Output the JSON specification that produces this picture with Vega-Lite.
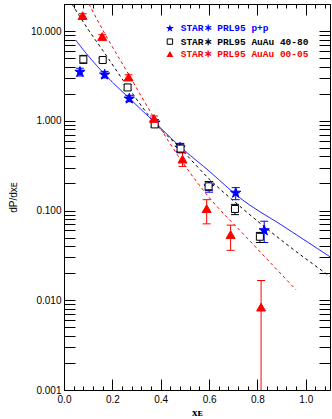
{
  "$schema": "https://vega.github.io/schema/vega-lite/v6.json",
  "width": 266,
  "height": 386,
  "autosize": {"type": "none"},
  "padding": {"left": 64, "top": 4, "right": 2, "bottom": 29},
  "background": "white",
  "config": {
    "view": {"stroke": "black", "strokeWidth": 1},
    "axis": {"domain": false, "grid": false, "tickColor": "black", "tickWidth": 1, "labelColor": "black", "labelFont": "Liberation Sans", "labelFontSize": 10, "titleColor": "black", "labelOverlap": false, "labelBound": false, "labelFlush": false},
    "text": {"font": "Liberation Mono", "fontSize": 9.5, "fontWeight": "bold", "align": "left", "baseline": "middle"}
  },
  "datasets": {
    "pts": [
      {"s": "STAR∗ PRL95 p+p", "x": 0.066, "y": 3.5, "lo": 3.15, "hi": 3.85},
      {"s": "STAR∗ PRL95 p+p", "x": 0.168, "y": 3.26, "lo": 3.0, "hi": 3.55},
      {"s": "STAR∗ PRL95 p+p", "x": 0.27, "y": 1.76, "lo": 1.63, "hi": 1.92},
      {"s": "STAR∗ PRL95 p+p", "x": 0.376, "y": 0.95, "lo": 0.87, "hi": 1.03},
      {"s": "STAR∗ PRL95 p+p", "x": 0.48, "y": 0.5, "lo": 0.45, "hi": 0.56},
      {"s": "STAR∗ PRL95 p+p", "x": 0.6, "y": 0.185, "lo": 0.16, "hi": 0.21},
      {"s": "STAR∗ PRL95 p+p", "x": 0.71, "y": 0.157, "lo": 0.132, "hi": 0.18},
      {"s": "STAR∗ PRL95 p+p", "x": 0.828, "y": 0.06, "lo": 0.044, "hi": 0.076},
      {"s": "STAR∗ PRL95 AuAu 40-80", "x": 0.08, "y": 4.83, "lo": 4.36, "hi": 5.35},
      {"s": "STAR∗ PRL95 AuAu 40-80", "x": 0.16, "y": 4.75, "lo": 4.5, "hi": 5.0},
      {"s": "STAR∗ PRL95 AuAu 40-80", "x": 0.263, "y": 2.35, "lo": 2.2, "hi": 2.54},
      {"s": "STAR∗ PRL95 AuAu 40-80", "x": 0.375, "y": 0.91, "lo": 0.85, "hi": 0.97},
      {"s": "STAR∗ PRL95 AuAu 40-80", "x": 0.482, "y": 0.49, "lo": 0.44, "hi": 0.55},
      {"s": "STAR∗ PRL95 AuAu 40-80", "x": 0.598, "y": 0.186, "lo": 0.168, "hi": 0.21},
      {"s": "STAR∗ PRL95 AuAu 40-80", "x": 0.707, "y": 0.104, "lo": 0.09, "hi": 0.117},
      {"s": "STAR∗ PRL95 AuAu 40-80", "x": 0.81, "y": 0.051, "lo": 0.044, "hi": 0.057},
      {"s": "STAR∗ PRL95 AuAu 00-05", "x": 0.077, "y": 14.7, "lo": 13.8, "hi": 15.6},
      {"s": "STAR∗ PRL95 AuAu 00-05", "x": 0.158, "y": 8.6, "lo": 8.1, "hi": 9.1},
      {"s": "STAR∗ PRL95 AuAu 00-05", "x": 0.267, "y": 3.04, "lo": 2.85, "hi": 3.25},
      {"s": "STAR∗ PRL95 AuAu 00-05", "x": 0.372, "y": 1.05, "lo": 0.95, "hi": 1.13},
      {"s": "STAR∗ PRL95 AuAu 00-05", "x": 0.49, "y": 0.37, "lo": 0.31, "hi": 0.44},
      {"s": "STAR∗ PRL95 AuAu 00-05", "x": 0.59, "y": 0.104, "lo": 0.071, "hi": 0.132},
      {"s": "STAR∗ PRL95 AuAu 00-05", "x": 0.689, "y": 0.0534, "lo": 0.036, "hi": 0.0687},
      {"s": "STAR∗ PRL95 AuAu 00-05", "x": 0.815, "y": 0.0083, "lo": 0.0005, "hi": 0.0166}
    ],
    "curves": [
      {"s": "STAR∗ PRL95 p+p", "x": 0.048, "y": 7.94},
      {"s": "STAR∗ PRL95 p+p", "x": 0.1, "y": 5.3},
      {"s": "STAR∗ PRL95 p+p", "x": 0.17, "y": 3.26},
      {"s": "STAR∗ PRL95 p+p", "x": 0.27, "y": 1.78},
      {"s": "STAR∗ PRL95 p+p", "x": 0.37, "y": 0.99},
      {"s": "STAR∗ PRL95 p+p", "x": 0.482, "y": 0.51},
      {"s": "STAR∗ PRL95 p+p", "x": 0.6, "y": 0.275},
      {"s": "STAR∗ PRL95 p+p", "x": 0.728, "y": 0.138},
      {"s": "STAR∗ PRL95 p+p", "x": 0.914, "y": 0.065},
      {"s": "STAR∗ PRL95 p+p", "x": 1.1, "y": 0.0305},
      {"s": "STAR∗ PRL95 AuAu 40-80", "x": 0.033, "y": 20},
      {"s": "STAR∗ PRL95 AuAu 40-80", "x": 0.1, "y": 10.4},
      {"s": "STAR∗ PRL95 AuAu 40-80", "x": 0.16, "y": 6.1},
      {"s": "STAR∗ PRL95 AuAu 40-80", "x": 0.263, "y": 2.4},
      {"s": "STAR∗ PRL95 AuAu 40-80", "x": 0.375, "y": 0.95},
      {"s": "STAR∗ PRL95 AuAu 40-80", "x": 0.482, "y": 0.49},
      {"s": "STAR∗ PRL95 AuAu 40-80", "x": 0.6, "y": 0.225},
      {"s": "STAR∗ PRL95 AuAu 40-80", "x": 0.728, "y": 0.111},
      {"s": "STAR∗ PRL95 AuAu 40-80", "x": 0.914, "y": 0.0434},
      {"s": "STAR∗ PRL95 AuAu 40-80", "x": 1.1, "y": 0.0184},
      {"s": "STAR∗ PRL95 AuAu 00-05", "x": 0.103, "y": 20},
      {"s": "STAR∗ PRL95 AuAu 00-05", "x": 0.16, "y": 10.3},
      {"s": "STAR∗ PRL95 AuAu 00-05", "x": 0.267, "y": 3.3},
      {"s": "STAR∗ PRL95 AuAu 00-05", "x": 0.372, "y": 1.08},
      {"s": "STAR∗ PRL95 AuAu 00-05", "x": 0.49, "y": 0.345},
      {"s": "STAR∗ PRL95 AuAu 00-05", "x": 0.6, "y": 0.14},
      {"s": "STAR∗ PRL95 AuAu 00-05", "x": 0.751, "y": 0.0515},
      {"s": "STAR∗ PRL95 AuAu 00-05", "x": 0.959, "y": 0.0131}
    ]
  },
  "resolve": {"axis": {"x": "independent", "y": "independent"}},
  "layer": [
    {
      "data": {"name": "curves"},
      "mark": {"type": "line", "strokeWidth": 1, "clip": true, "interpolate": "monotone"},
      "encoding": {
        "x": {"field": "x", "type": "quantitative", "scale": {"domain": [0, 1.1], "nice": false, "zero": false},
          "axis": {"orient": "bottom", "values": [0, 0.2, 0.4, 0.6, 0.8, 1.0], "tickSize": -11, "format": ".1f", "labelPadding": 15, "title": "xᴇ", "titleFont": "Liberation Serif", "titleFontSize": 11, "titleFontWeight": "bold", "titlePadding": 2}},
        "y": {"field": "y", "type": "quantitative", "scale": {"type": "log", "domain": [0.001, 20], "nice": false},
          "axis": {"orient": "left", "values": [0.001,0.002,0.003,0.004,0.005,0.006,0.007,0.008,0.009,0.01,0.02,0.03,0.04,0.05,0.06,0.07,0.08,0.09,0.1,0.2,0.3,0.4,0.5,0.6,0.7,0.8,0.9,1,2,3,4,5,6,7,8,9,10,20],
            "tickSize": -11, "labelPadding": 14, "labelExpr": "(datum.value==0.001||datum.value==0.01||datum.value==0.1||datum.value==1||datum.value==10) ? format(datum.value,'.3f') : ''",
            "title": "dP/dxᴇ", "titleFont": "Liberation Sans", "titleFontSize": 10, "titleFontWeight": "normal", "titlePadding": 12}},
        "stroke": {"field": "s", "type": "nominal", "scale": {"domain": ["STAR∗ PRL95 p+p", "STAR∗ PRL95 AuAu 40-80", "STAR∗ PRL95 AuAu 00-05"], "range": ["#0000ff", "#000000", "#ff0000"]}, "legend": null},
        "strokeDash": {"field": "s", "type": "nominal", "scale": {"domain": ["STAR∗ PRL95 p+p", "STAR∗ PRL95 AuAu 40-80", "STAR∗ PRL95 AuAu 00-05"], "range": [[1, 0], [3, 3], [3, 3]]}, "legend": null}
      }
    },
    {
      "data": {"name": "pts"},
      "mark": {"type": "rule", "strokeWidth": 1, "clip": true},
      "encoding": {
        "x": {"field": "x", "type": "quantitative",
          "axis": {"orient": "bottom", "values": [0.04,0.08,0.12,0.16,0.24,0.28,0.32,0.36,0.44,0.48,0.52,0.56,0.64,0.68,0.72,0.76,0.84,0.88,0.92,0.96,1.04,1.08], "tickSize": -4, "labels": false, "title": null}},
        "y": {"field": "lo", "type": "quantitative",
          "axis": {"orient": "right", "values": [0.001,0.002,0.003,0.004,0.005,0.006,0.007,0.008,0.009,0.01,0.02,0.03,0.04,0.05,0.06,0.07,0.08,0.09,0.1,0.2,0.3,0.4,0.5,0.6,0.7,0.8,0.9,1,2,3,4,5,6,7,8,9,10,20], "tickSize": -11, "labels": false, "title": null}},
        "y2": {"field": "hi"},
        "stroke": {"field": "s", "type": "nominal", "legend": null}
      }
    },
    {
      "data": {"name": "pts"},
      "transform": [{"fold": ["lo", "hi"], "as": ["k", "v"]}],
      "mark": {"type": "point", "shape": "stroke", "size": 64, "strokeWidth": 1, "clip": true, "opacity": 1},
      "encoding": {
        "x": {"field": "x", "type": "quantitative",
          "axis": {"orient": "top", "values": [0, 0.2, 0.4, 0.6, 0.8, 1.0], "tickSize": -11, "labels": false, "title": null}},
        "y": {"field": "v", "type": "quantitative", "axis": null},
        "stroke": {"field": "s", "type": "nominal", "legend": null}
      }
    },
    {
      "data": {"name": "pts"},
      "mark": {"type": "point", "size": 60, "strokeWidth": 1, "opacity": 1, "filled": false},
      "encoding": {
        "x": {"field": "x", "type": "quantitative",
          "axis": {"orient": "top", "values": [0.04,0.08,0.12,0.16,0.24,0.28,0.32,0.36,0.44,0.48,0.52,0.56,0.64,0.68,0.72,0.76,0.84,0.88,0.92,0.96,1.04,1.08], "tickSize": -4, "labels": false, "title": null}},
        "y": {"field": "y", "type": "quantitative", "axis": null},
        "shape": {"field": "s", "type": "nominal",
          "scale": {"domain": ["STAR∗ PRL95 p+p", "STAR∗ PRL95 AuAu 40-80", "STAR∗ PRL95 AuAu 00-05"],
            "range": ["M0,-1.4L0.323,-0.445L1.331,-0.433L0.523,0.17L0.823,1.133L0,0.55L-0.823,1.133L-0.523,0.17L-1.331,-0.433L-0.323,-0.445Z", "M-0.9,-0.9H0.9V0.9H-0.9Z", "M0,-1.1L1.15,0.9L-1.15,0.9Z"]},
          "legend": null},
        "fill": {"field": "s", "type": "nominal", "scale": {"domain": ["STAR∗ PRL95 p+p", "STAR∗ PRL95 AuAu 40-80", "STAR∗ PRL95 AuAu 00-05"], "range": ["#0000ff", "#ffffff", "#ff0000"]}, "legend": null},
        "stroke": {"field": "s", "type": "nominal", "legend": null}
      }
    },
    {
      "data": {"values": [{"s": "STAR∗ PRL95 p+p"}]},
      "mark": {"type": "point", "shape": "M0,-1.4L0.323,-0.445L1.331,-0.433L0.523,0.17L0.823,1.133L0,0.55L-0.823,1.133L-0.523,0.17L-1.331,-0.433L-0.323,-0.445Z", "size": 36, "filled": true, "color": "#0000ff", "opacity": 1},
      "encoding": {"x": {"datum": 0.438, "type": "quantitative", "axis": null}, "y": {"datum": 10.7, "type": "quantitative", "axis": null}}
    },
    {
      "data": {"values": [{"s": "STAR∗ PRL95 p+p"}]},
      "mark": {"type": "text", "color": "#0000ff"},
      "encoding": {"x": {"datum": 0.4826, "type": "quantitative", "axis": null}, "y": {"datum": 10.7, "type": "quantitative", "axis": null}, "text": {"field": "s"}}
    },
    {
      "data": {"values": [{"s": "STAR∗ PRL95 AuAu 40-80"}]},
      "mark": {"type": "point", "shape": "M-0.9,-0.9H0.9V0.9H-0.9Z", "size": 36, "filled": false, "stroke": "#000000", "fill": "#ffffff", "strokeWidth": 1, "opacity": 1},
      "encoding": {"x": {"datum": 0.438, "type": "quantitative", "axis": null}, "y": {"datum": 7.62, "type": "quantitative", "axis": null}}
    },
    {
      "data": {"values": [{"s": "STAR∗ PRL95 AuAu 40-80"}]},
      "mark": {"type": "text", "color": "#000000"},
      "encoding": {"x": {"datum": 0.4826, "type": "quantitative", "axis": null}, "y": {"datum": 7.62, "type": "quantitative", "axis": null}, "text": {"field": "s"}}
    },
    {
      "data": {"values": [{"s": "STAR∗ PRL95 AuAu 00-05"}]},
      "mark": {"type": "point", "shape": "M0,-1.1L1.15,0.9L-1.15,0.9Z", "size": 36, "filled": true, "color": "#ff0000", "opacity": 1},
      "encoding": {"x": {"datum": 0.438, "type": "quantitative", "axis": null}, "y": {"datum": 5.5, "type": "quantitative", "axis": null}}
    },
    {
      "data": {"values": [{"s": "STAR∗ PRL95 AuAu 00-05"}]},
      "mark": {"type": "text", "color": "#ff0000"},
      "encoding": {"x": {"datum": 0.4826, "type": "quantitative", "axis": null}, "y": {"datum": 5.5, "type": "quantitative", "axis": null}, "text": {"field": "s"}}
    }
  ]
}
